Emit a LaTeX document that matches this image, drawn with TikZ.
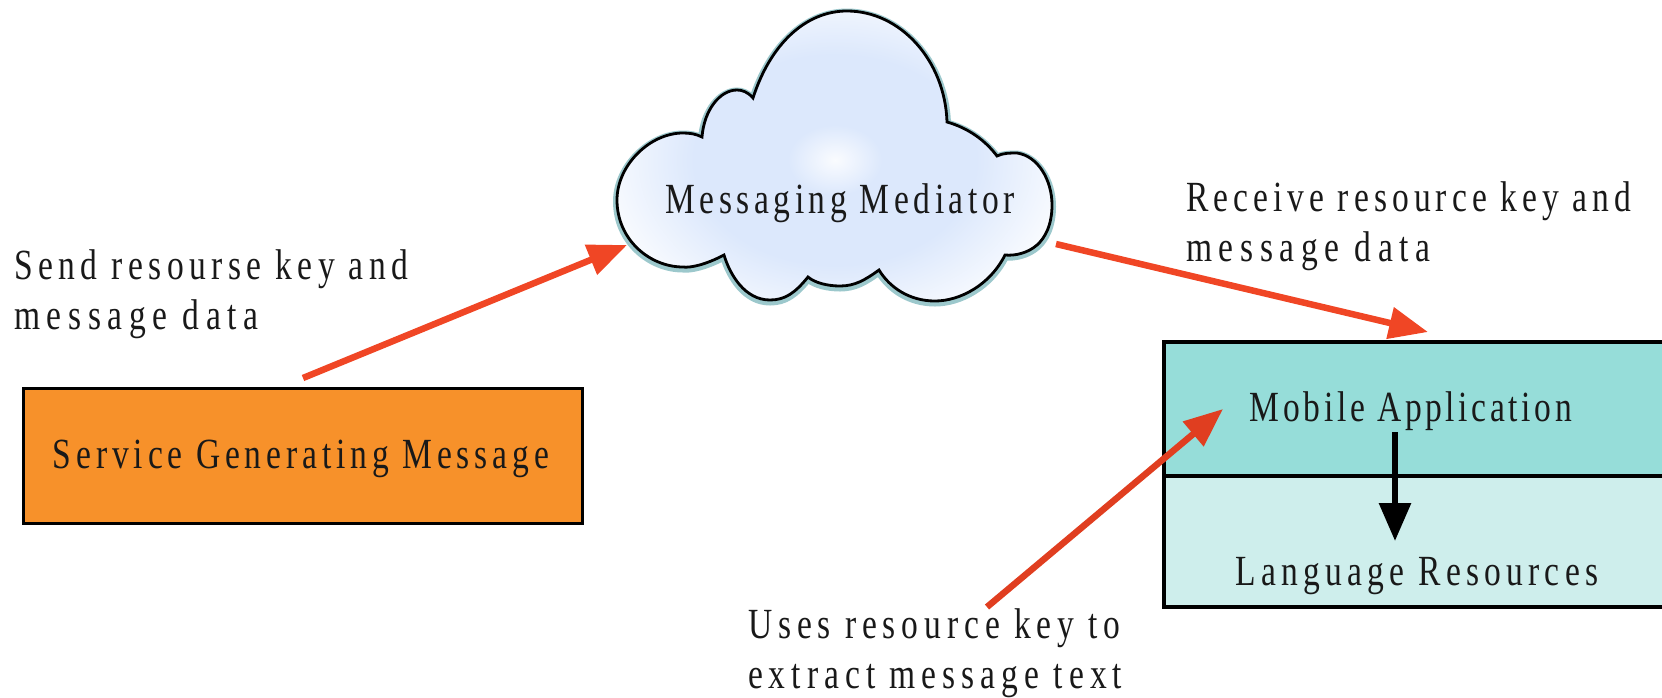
\documentclass[tikz,border=0pt]{standalone}
\usepackage{fontspec}
\setmainfont[FakeStretch=0.78,LetterSpace=12]{Liberation Serif}
\usetikzlibrary{arrows.meta}
\newcommand{\ls}[2]{{\addfontfeature{LetterSpace=#1}#2}}
\definecolor{redarrow}{HTML}{F04625}
\definecolor{redarrowb}{HTML}{E03E20}
\definecolor{orangebox}{HTML}{F7912A}
\definecolor{tealtop}{HTML}{96DDD9}
\definecolor{teallow}{HTML}{CEEEEC}
\definecolor{cloudblue}{HTML}{DCE8FC}
\definecolor{cloudedge}{HTML}{9CC8CC}
\pgfdeclareradialshading{cloudglow}{\pgfpoint{0bp}{0bp}}{%
 color(0bp)=(white!85!cloudblue);
 color(5bp)=(cloudblue);
 color(15bp)=(cloudblue);
 color(27bp)=(white);
 color(100bp)=(white)}
\tikzset{
 x=1pt,y=-1pt,
 lbl/.style={inner sep=0pt,outer sep=0pt,font=\fontsize{43}{50}\selectfont,text=black!90},
 lblleft/.style={lbl,align=left,anchor=north west},
 redtip/.style={-{Triangle[length=39pt,width=31pt]},line width=6.5pt},
 box/.style={draw=black,line width=3.5pt,inner sep=0pt,outer sep=0pt}
}
\newcommand{\cloudpath}{(702,137) .. controls (704,110) and (720,90) .. (737,90)
 .. controls (742,90) and (748,92) .. (753,98)
 .. controls (770,45) and (805,11) .. (847,11)
 .. controls (900,11) and (945,60) .. (947,122)
 .. controls (968,128) and (985,140) .. (997,156)
 .. controls (1003,153) and (1010,153) .. (1017,153)
 .. controls (1038,156) and (1052,180) .. (1052,205)
 .. controls (1052,225) and (1045,238) .. (1037,245)
 .. controls (1028,253) and (1015,256) .. (1005,255)
 .. controls (990,285) and (960,301) .. (935,301)
 .. controls (910,301) and (890,288) .. (879,270)
 .. controls (865,280) and (855,286) .. (840,286)
 .. controls (828,286) and (815,283) .. (808,277)
 .. controls (795,293) and (785,300) .. (770,300)
 .. controls (745,300) and (730,275) .. (724,255)
 .. controls (705,265) and (690,268) .. (683,267)
 .. controls (650,267) and (617,240) .. (617,200)
 .. controls (617,165) and (650,133) .. (683,133)
 .. controls (690,133) and (696,134) .. (702,137) -- cycle}
\begin{document}
\begin{tikzpicture}
\useasboundingbox (0,0) rectangle (1662,697);
\draw[cloudedge,line width=8pt,shift={(0,1.5)}] \cloudpath;
\begin{scope}
\clip \cloudpath;
\shade[shading=cloudglow] (600,-15) rectangle (1070,335);
\end{scope}
\draw[black,line width=2.8pt,line join=miter] \cloudpath;

\node[box,fill=orangebox,minimum width=559pt,minimum height=135pt] (svc) at (303,456) {};
\node[lbl] at ([xshift=-2pt,yshift=-3pt]svc.center) {\ls{11.4}{Service Generating Message}};
\node[box,fill=teallow,minimum width=501pt,minimum height=265pt,anchor=north west] (res) at (1164,342) {};
\node[box,fill=tealtop,minimum width=501pt,minimum height=134pt,anchor=north west] (app) at (1164,342) {};
\node[lbl] (applbl) at (1411,411) {\ls{8.5}{Mobile Application}};
\node[lbl] (reslbl) at (1417,576) {\ls{12.2}{Language Resources}};
\node[lbl] (med) at (840,203) {\ls{10.6}{Messaging Mediator}};
\node[lblleft] (send) at (14,250) {\ls{12.8}{Send resourse key and}\\\ls{15.5}{message data}};
\node[lblleft] (recv) at (1186,182) {\ls{11.8}{Receive resource key and}\\\ls{15.5}{message data}};
\node[lblleft] (uses) at (748,609) {\ls{13.7}{Uses resource key to}\\\ls{14}{extract message text}};

\coordinate (a1) at (303,378); \coordinate (a2) at (627,245);
\coordinate (b1) at (1056,244); \coordinate (b2) at (1428,332);
\coordinate (c1) at (987,607); \coordinate (c2) at (1223,409);
\coordinate (d1) at (1395,432); \coordinate (d2) at (1395,541);
\draw[redtip,redarrow] (a1) -- (a2);
\draw[redtip,redarrow] (b1) -- (b2);
\draw[redtip,redarrowb] (c1) -- (c2);
\draw[-{Triangle[length=38pt,width=31pt]},line width=6pt,black] (d1) -- (d2);
\end{tikzpicture}
\end{document}
